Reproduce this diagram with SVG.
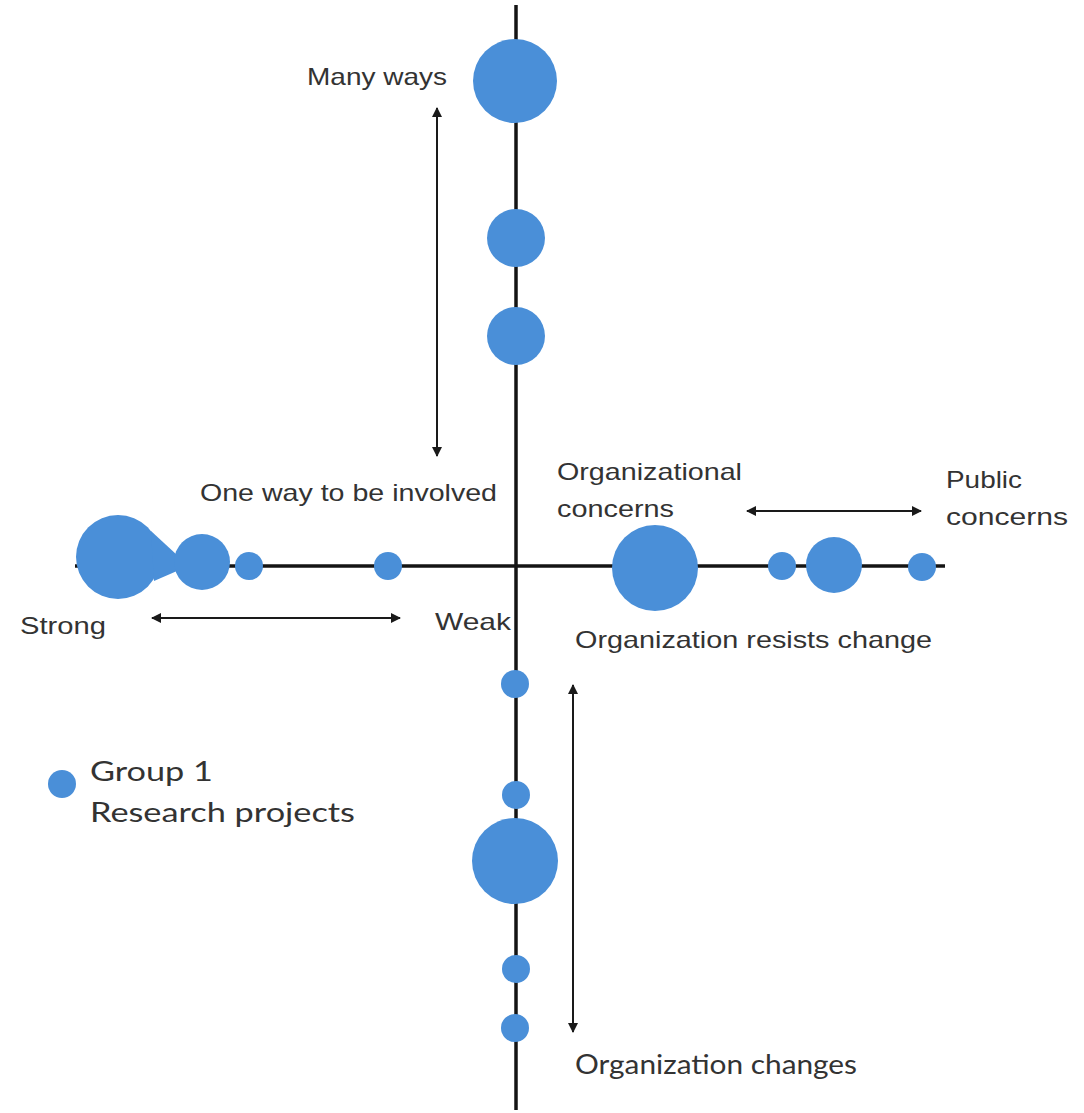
<svg xmlns="http://www.w3.org/2000/svg" width="1084" height="1113" viewBox="0 0 1084 1113">
<style>
.axis{stroke:#141414;stroke-width:3.5;fill:none}
.arr{stroke:#1a1a1a;stroke-width:2;fill:none;marker-start:url(#ah);marker-end:url(#ah)}
.dot{fill:#4A8FD8}
.lbl{font-family:"Liberation Sans",Arial,sans-serif;font-size:24px;fill:#333}
.cal{font-family:Lato,"Open Sans",sans-serif;font-size:26px;fill:#333}
</style>
<defs>
<marker id="ah" viewBox="0 0 10 10" refX="9" refY="5" markerWidth="5" markerHeight="5" orient="auto-start-reverse" markerUnits="strokeWidth">
<path d="M0,0 L10,5 L0,10 z" fill="#1a1a1a"/>
</marker>
</defs>
<rect width="1084" height="1113" fill="#fff"/>
<g id="connectors">
<line class="axis" x1="516" y1="5" x2="516" y2="1110"/>
<line class="axis" x1="75" y1="566" x2="945" y2="566"/>
<line class="arr" x1="437" y1="108" x2="437" y2="456"/>
<line class="arr" x1="152" y1="618" x2="400" y2="618"/>
<line class="arr" x1="747" y1="511" x2="921" y2="511"/>
<line class="arr" x1="573" y1="685" x2="573" y2="1032"/>
</g>
<g id="top-nodes">
<g id="n-top1"><circle class="dot" cx="515" cy="81" r="42"/></g>
<g id="n-top2"><circle class="dot" cx="516" cy="238" r="29"/></g>
<g id="n-top3"><circle class="dot" cx="516" cy="336" r="29"/></g>
</g>
<g id="left-nodes">
<g id="n-left1"><circle class="dot" cx="118" cy="557" r="42"/><path class="dot" d="M151,531 L177,555 L177,571 L154,581 z"/></g>
<g id="n-left2"><circle class="dot" cx="202" cy="562" r="28"/></g>
<g id="n-left3"><circle class="dot" cx="249" cy="566" r="14"/></g>
<g id="n-left4"><circle class="dot" cx="388" cy="566" r="14"/></g>
</g>
<g id="right-nodes">
<g id="n-right1"><circle class="dot" cx="655" cy="568" r="43"/></g>
<g id="n-right2"><circle class="dot" cx="782" cy="566" r="14"/></g>
<g id="n-right3"><circle class="dot" cx="834" cy="565" r="28"/></g>
<g id="n-right4"><circle class="dot" cx="922" cy="567" r="14"/></g>
</g>
<g id="bottom-nodes">
<g id="n-bot1"><circle class="dot" cx="515" cy="684" r="14"/></g>
<g id="n-bot2"><circle class="dot" cx="516" cy="795" r="14"/></g>
<g id="n-bot3"><circle class="dot" cx="515" cy="861" r="43"/></g>
<g id="n-bot4"><circle class="dot" cx="516" cy="969" r="14"/></g>
<g id="n-bot5"><circle class="dot" cx="515" cy="1028" r="14"/></g>
</g>
<g id="labels">
<text class="lbl" x="307" y="85" textLength="140" lengthAdjust="spacingAndGlyphs">Many ways</text>
<text class="lbl" x="200" y="501" textLength="297" lengthAdjust="spacingAndGlyphs">One way to be involved</text>
<text class="lbl" x="557" y="480" textLength="185" lengthAdjust="spacingAndGlyphs">Organizational</text>
<text class="lbl" x="557" y="517" textLength="117" lengthAdjust="spacingAndGlyphs">concerns</text>
<text class="lbl" x="946" y="488" textLength="76" lengthAdjust="spacingAndGlyphs">Public</text>
<text class="lbl" x="946" y="525" textLength="122" lengthAdjust="spacingAndGlyphs">concerns</text>
<text class="lbl" x="20" y="634" textLength="86" lengthAdjust="spacingAndGlyphs">Strong</text>
<text class="lbl" x="435" y="630" textLength="76" lengthAdjust="spacingAndGlyphs">Weak</text>
<text class="lbl" x="575" y="648" textLength="357" lengthAdjust="spacingAndGlyphs">Organization resists change</text>
<text class="cal" x="575" y="1074" textLength="282" lengthAdjust="spacingAndGlyphs">Organization changes</text>
</g>
<g id="legend">
<circle class="dot" cx="62" cy="784" r="14"/>
<text class="cal" x="90" y="781" textLength="123" lengthAdjust="spacingAndGlyphs">Group 1</text>
<text class="cal" x="90" y="822" textLength="265" lengthAdjust="spacingAndGlyphs">Research projects</text>
</g>
</svg>
